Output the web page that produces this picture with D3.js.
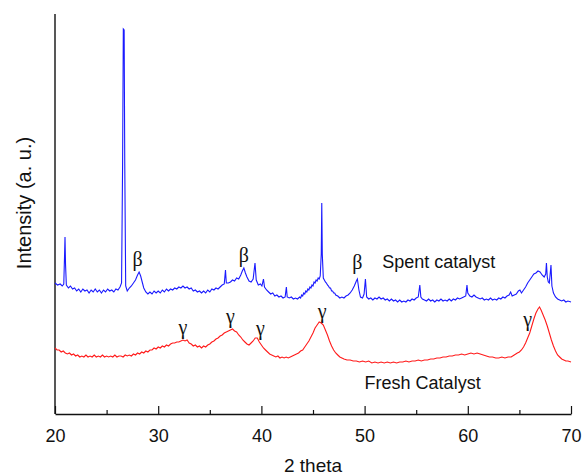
<!DOCTYPE html>
<html>
<head>
<meta charset="utf-8">
<script src="https://cdn.jsdelivr.net/npm/d3@7"></script>
<style>
  body { margin: 0; background: #fff; }
  svg { display: block; font-family: "Liberation Sans", Arial, sans-serif; }
</style>
</head>
<body>
<div id="root"></div>
<script>
// XRD patterns, [2 theta, intensity (a.u.)]
var spentPoints = [
  [20.0,131],[20.25,129],[20.5,130],[20.7,128],[20.85,130],[20.93,160],[20.97,177],[21.02,150],[21.1,129],[21.3,126],
  [21.5,128],[21.7,125],[21.9,126],[22.1,123],[22.3,125],[22.5,122],[22.7,125],[22.9,123],[23.1,124],[23.3,121],
  [23.5,124],[23.7,122],[23.9,125],[24.1,122],[24.3,124],[24.5,121],[24.7,124],[24.9,122],[25.1,125],[25.3,123],
  [25.5,124],[25.7,122],[25.9,125],[26.1,124],[26.3,127],[26.45,131],[26.55,250],[26.62,385],[26.7,384],[26.76,250],
  [26.85,128],[27.0,123],[27.2,126],[27.4,128],[27.6,131],[27.8,134],[28.0,139],[28.15,142],[28.3,138],[28.45,132],
  [28.6,126],[28.8,122],[29.0,120],[29.2,122],[29.4,120],[29.6,123],[29.8,121],[30.0,123],[30.2,121],[30.4,124],
  [30.6,122],[30.8,125],[31.0,123],[31.2,125],[31.4,124],[31.6,126],[31.8,125],[32.0,127],[32.2,126],[32.4,128],
  [32.6,126],[32.8,127],[33.0,125],[33.2,126],[33.4,123],[33.6,124],[33.8,122],[34.0,123],[34.2,121],[34.4,123],
  [34.6,121],[34.8,124],[35.0,122],[35.2,125],[35.4,124],[35.6,126],[35.8,125],[36.0,127],[36.2,129],[36.4,130],
  [36.52,144],[36.6,131],[36.8,131],[37.0,132],[37.2,134],[37.4,133],[37.6,136],[37.8,135],[38.0,139],[38.15,143],
  [38.3,146],[38.45,141],[38.6,137],[38.8,133],[39.0,132],[39.2,135],[39.38,151],[39.5,134],[39.7,129],[39.9,130],
  [40.05,128],[40.2,135],[40.3,127],[40.5,124],[40.7,122],[40.9,120],[41.1,121],[41.3,118],[41.5,119],[41.7,117],
  [41.9,118],[42.1,116],[42.3,117],[42.42,127],[42.5,117],[42.7,116],[42.9,117],[43.1,115],[43.3,116],[43.5,115],
  [43.7,117],[43.8,116],[43.9,119],[44.0,118],[44.1,121],[44.2,120],[44.3,123],[44.4,122],[44.5,125],[44.6,124],
  [44.7,127],[44.8,126],[44.9,129],[45.0,128],[45.1,132],[45.2,131],[45.3,134],[45.4,133],[45.5,136],[45.6,135],
  [45.7,138],[45.8,160],[45.85,211],[45.9,160],[46.0,136],[46.1,134],[46.2,132],[46.3,131],[46.4,129],[46.5,128],
  [46.6,126],[46.7,126],[46.8,123],[46.9,123],[47.0,121],[47.1,121],[47.2,119],[47.4,118],[47.6,116],[47.8,117],
  [48.0,116],[48.2,118],[48.4,119],[48.6,121],[48.8,124],[49.0,128],
  [49.2,133],[49.3,135],[49.45,124],[49.6,117],[49.8,116],[49.95,120],[50.08,135],[50.2,117],[50.4,115],[50.6,116],
  [50.8,114],[51.0,116],[51.2,115],[51.4,117],[51.6,115],[51.8,116],[52.0,114],[52.2,115],[52.4,113],[52.6,115],
  [52.8,113],[53.0,114],[53.2,112],[53.4,114],[53.6,112],[53.8,113],[54.0,112],[54.2,114],[54.4,113],[54.6,115],
  [54.8,114],[55.0,116],[55.2,117],[55.35,129],[55.45,117],[55.6,115],[55.8,114],[56.0,113],[56.2,115],[56.4,113],
  [56.6,114],[56.8,112],[57.0,114],[57.2,113],[57.4,115],[57.6,113],[57.8,114],[58.0,113],[58.2,115],[58.4,113],
  [58.6,115],[58.8,114],[59.0,116],[59.2,115],[59.4,116],[59.6,117],[59.8,118],[59.92,129],[60.0,121],[60.2,118],
  [60.4,117],[60.6,119],[60.8,117],[61.0,116],[61.2,115],[61.4,116],[61.6,114],[61.8,115],[62.0,114],[62.2,116],
  [62.4,114],[62.6,115],[62.8,114],[63.0,116],[63.2,115],[63.4,117],[63.6,116],[63.8,118],[64.0,119],[64.15,122],
  [64.3,118],[64.5,119],[64.7,120],[64.9,123],[65.05,124],[65.2,121],[65.4,124],[65.6,127],[65.8,131],[66.0,134],
  [66.2,137],[66.4,140],[66.6,141],[66.8,143],[67.0,142],[67.2,139],[67.4,137],[67.55,140],[67.62,151],[67.7,137],
  [67.8,132],[67.9,131],[68.0,142],[68.06,149],[68.15,128],[68.3,121],[68.5,117],[68.7,115],[68.9,114],[69.1,113],
  [69.3,114],[69.5,112],[69.7,113],[70.0,112]
];

var freshPoints = [
  [20.0,66],[20.2,64],[20.4,64],[20.6,62],[20.8,63],[21.0,61],[21.2,60],[21.4,61],[21.6,59],[21.8,60],
  [22.0,58],[22.2,59],[22.4,57],[22.6,58],[22.8,57],[23.0,59],[23.2,57],[23.4,58],[23.6,57],[23.8,59],
  [24.0,57],[24.2,58],[24.4,57],[24.6,59],[24.8,57],[25.0,58],[25.2,57],[25.4,58],[25.6,57],[25.8,59],
  [26.0,57],[26.2,58],[26.4,58],[26.6,57],[26.8,59],[27.0,58],[27.2,59],[27.4,58],[27.6,60],[27.8,59],
  [28.0,61],[28.2,60],[28.4,62],[28.6,61],[28.8,63],[29.0,62],[29.2,64],[29.4,64],[29.6,66],[29.8,65],
  [30.0,67],[30.2,66],[30.4,68],[30.6,67],[30.8,69],[31.0,68],[31.2,70],[31.4,71],[31.6,71],[31.8,72],
  [32.0,72],[32.2,73],[32.4,74],[32.6,73],[32.8,74],[33.0,71],[33.2,70],[33.4,68],[33.6,69],[33.8,67],
  [34.0,68],[34.2,66],[34.4,68],[34.6,67],[34.8,69],[35.0,70],[35.2,72],[35.4,73],[35.6,75],[35.8,76],
  [36.0,78],[36.2,79],[36.4,81],[36.6,82],[36.8,83],[37.0,84],[37.2,85],[37.4,83],[37.6,82],[37.8,79],
  [38.0,77],[38.2,74],[38.4,72],[38.6,70],[38.8,69],[39.0,71],[39.2,73],[39.4,76],[39.6,76],[39.8,72],
  [40.0,69],[40.2,66],[40.4,64],[40.6,62],[40.8,60],[41.0,59],[41.2,58],[41.4,57],[41.6,58],[41.8,56],
  [42.0,57],[42.2,56],[42.4,57],[42.6,56],[42.8,57],[43.0,58],[43.2,59],[43.4,60],[43.6,61],[43.8,63],
  [44.0,64],[44.2,67],[44.4,70],[44.6,73],[44.8,77],[45.0,81],[45.2,86],[45.4,89],[45.6,92],[45.8,91],
  [46.0,89],[46.2,84],[46.4,79],[46.6,73],[46.8,68],[47.0,64],[47.2,61],[47.4,59],[47.6,57],[47.8,56],
  [48.0,55],[48.3,54],[48.6,54],[48.9,53],[49.2,53],[49.5,52],[49.8,53],[50.1,52],[50.4,53],[50.7,51],
  [51.0,52],[51.3,51],[51.6,52],[51.9,51],[52.2,52],[52.5,51],[52.8,52],[53.1,51],[53.4,52],[53.7,52],
  [54.0,53],[54.3,52],[54.6,53],[54.9,53],[55.2,54],[55.5,53],[55.8,54],[56.1,54],[56.4,55],[56.7,55],
  [57.0,56],[57.3,56],[57.6,57],[57.9,57],[58.2,58],[58.5,58],[58.8,59],[59.1,59],[59.4,60],[59.7,59],
  [60.0,60],[60.3,61],[60.6,60],[60.9,61],[61.2,60],[61.5,59],[61.8,58],[62.1,57],[62.4,57],[62.7,56],
  [63.0,56],[63.3,57],[63.6,56],[63.9,57],[64.2,57],[64.5,59],[64.8,61],[65.0,62],[65.2,64],[65.4,67],
  [65.6,71],[65.8,76],[66.0,81],[66.2,88],[66.4,95],[66.6,101],[66.8,105],[66.95,107],[67.1,104],[67.3,99],
  [67.5,94],[67.7,88],[67.9,81],[68.1,74],[68.3,68],[68.5,63],[68.7,59],[68.9,57],[69.1,55],[69.3,54],
  [69.5,53],[69.7,53],[70.0,52]
];

// phase markers: [2 theta, label height]
var betaLabels = [[28.0,155],[38.3,159],[49.3,152]];
var gammaLabels = [[32.4,86],[37.0,97],[39.9,85],[45.9,102],[65.8,94]];

// curve names: [2 theta at start, height, text]
var curveLabels = [[51.7,152,"Spent catalyst"],[50.0,31,"Fresh Catalyst"]];

var majorTicks = [20, 30, 40, 50, 60, 70];
var minorTicks = [25, 35, 45, 55, 65];

var margin = {top: 14, right: 11, bottom: 62, left: 55},
    width = 582 - margin.left - margin.right,
    height = 476 - margin.top - margin.bottom;

var x = d3.scaleLinear().domain([20, 70]).range([0, width]);
var y = d3.scaleLinear().domain([0, 400]).range([height, 0]);

var svg = d3.select("#root").append("svg")
    .attr("width", 582)
    .attr("height", 476)
  .append("g")
    .attr("transform", "translate(" + margin.left + "," + margin.top + ")");

// x axis, ticks point inward
svg.append("g")
    .attr("transform", "translate(0," + height + ")")
    .call(d3.axisBottom(x).tickValues(minorTicks).tickSize(-4).tickFormat(""))
    .call(function(g) { g.select(".domain").remove(); });

var xAxis = svg.append("g")
    .attr("transform", "translate(0," + height + ")")
    .call(d3.axisBottom(x).tickValues(majorTicks).tickSizeInner(-8).tickSizeOuter(0).tickPadding(15));
xAxis.selectAll("text").attr("font-size", 18).attr("fill", "#111").attr("font-family", "Liberation Sans, Arial, sans-serif");

svg.selectAll(".tick line").attr("stroke", "#111").attr("stroke-width", 1.2);
svg.selectAll(".domain").attr("stroke", "#111").attr("stroke-width", 1.4);

// y axis line only
svg.append("line")
    .attr("x1", 0).attr("x2", 0)
    .attr("y1", 0).attr("y2", height)
    .attr("stroke", "#111").attr("stroke-width", 1.4);

var line = d3.line()
    .x(function(d) { return x(d[0]); })
    .y(function(d) { return y(d[1]); });

svg.append("path")
    .datum(freshPoints)
    .attr("fill", "none")
    .attr("stroke", "#ff1a1a")
    .attr("stroke-width", 1.1)
    .attr("d", line);

svg.append("path")
    .datum(spentPoints)
    .attr("fill", "none")
    .attr("stroke", "#1a1aff")
    .attr("stroke-width", 1.1)
    .attr("d", line);

// peak labels
svg.selectAll(".beta").data(betaLabels).enter().append("text")
    .attr("class", "beta")
    .attr("x", function(d) { return x(d[0]); })
    .attr("y", function(d) { return y(d[1]); })
    .attr("dy", "0.35em")
    .attr("text-anchor", "middle")
    .attr("font-family", "Liberation Serif, Times New Roman, serif")
    .attr("font-size", 20)
    .attr("fill", "#111")
    .text("β");

svg.selectAll(".gamma").data(gammaLabels).enter().append("text")
    .attr("class", "gamma")
    .attr("x", function(d) { return x(d[0]); })
    .attr("y", function(d) { return y(d[1]); })
    .attr("dy", "0.3em")
    .attr("text-anchor", "middle")
    .attr("font-family", "Liberation Serif, Times New Roman, serif")
    .attr("font-size", 20)
    .attr("fill", "#111")
    .text("γ");

svg.selectAll(".curve-label").data(curveLabels).enter().append("text")
    .attr("class", "curve-label")
    .attr("x", function(d) { return x(d[0]); })
    .attr("y", function(d) { return y(d[1]); })
    .attr("dy", "0.35em")
    .attr("font-size", 18)
    .attr("fill", "#111")
    .text(function(d) { return d[2]; });

// axis titles
svg.append("text")
    .attr("x", width / 2)
    .attr("y", height + 58)
    .attr("text-anchor", "middle")
    .attr("font-size", 19)
    .attr("fill", "#111")
    .text("2 theta");

svg.append("text")
    .attr("transform", "translate(" + (31 - margin.left) + "," + (203 - margin.top) + ") rotate(-90)")
    .attr("text-anchor", "middle")
    .attr("font-size", 20)
    .attr("fill", "#111")
    .text("Intensity (a. u.)");
</script>
</body>
</html>
